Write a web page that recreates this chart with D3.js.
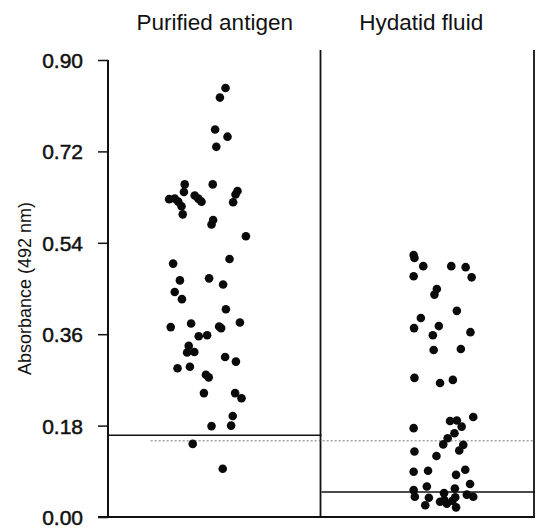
<!DOCTYPE html>
<html>
<head>
<meta charset="utf-8">
<script src="https://cdn.jsdelivr.net/npm/d3@7"></script>
<style>
  body { margin: 0; background: #fff; }
  svg { display: block; }
</style>
</head>
<body>
<div id="chart"></div>
<script>
// ELISA absorbance, two antigen preparations
const groups = ["Purified antigen", "Hydatid fluid"];

const purifiedValues = [0.845, 0.826, 0.763, 0.749, 0.729, 0.655, 0.655, 0.640, 0.626, 0.627,
  0.621, 0.612, 0.633, 0.627, 0.621, 0.642, 0.635, 0.620, 0.596, 0.585,
  0.576, 0.553, 0.499, 0.508, 0.466, 0.470, 0.458, 0.443, 0.429, 0.409,
  0.374, 0.381, 0.375, 0.372, 0.383, 0.356, 0.358, 0.337, 0.324, 0.325,
  0.315, 0.306, 0.293, 0.296, 0.280, 0.275, 0.244, 0.244, 0.234, 0.199,
  0.179, 0.180, 0.144, 0.095];
const purifiedJitter = [0.44, 0.30, 0.18, 0.49, 0.21, -0.58, 0.12, -0.60, -0.97, -0.83,
  -0.74, -0.66, -0.33, -0.24, -0.16, 0.74, 0.69, 0.63, -0.63, 0.13,
  0.09, 0.95, -0.87, 0.54, -0.70, 0.03, 0.38, -0.83, -0.65, 0.45,
  -0.93, -0.42, 0.28, 0.33, 0.80, -0.23, -0.02, -0.48, -0.52, -0.34,
  0.43, 0.70, -0.76, -0.45, -0.05, 0.02, -0.10, 0.68, 0.84, 0.62,
  0.09, 0.58, -0.38, 0.37];

const fluidValues = [0.516, 0.510, 0.494, 0.494, 0.492, 0.474, 0.472, 0.449, 0.438, 0.406,
  0.392, 0.372, 0.376, 0.358, 0.364, 0.329, 0.331, 0.274, 0.264, 0.270,
  0.197, 0.189, 0.190, 0.178, 0.175, 0.165, 0.155, 0.143, 0.142, 0.131,
  0.129, 0.120, 0.089, 0.091, 0.093, 0.083, 0.065, 0.060, 0.053, 0.056,
  0.040, 0.038, 0.023, 0.047, 0.033, 0.026, 0.032, 0.039, 0.019, 0.044,
  0.040, 0.030];
const fluidJitter = [-0.76, -0.74, -0.52, 0.18, 0.54, -0.76, 0.69, -0.18, -0.24, 0.32,
  -0.58, -0.75, -0.13, -0.28, 0.66, -0.26, 0.42, -0.74, -0.10, 0.22,
  0.73, 0.15, 0.32, 0.44, -0.76, 0.26, 0.09, -0.02, 0.48, 0.38,
  -0.74, -0.19, -0.76, -0.40, 0.53, 0.30, 0.65, -0.43, -0.76, 0.27,
  -0.73, -0.38, -0.47, 0.00, 0.01, 0.07, 0.21, 0.28, 0.30, 0.57,
  0.73, -0.10];

// where each cloud of points sits inside its panel (fraction of the panel width)
const groupCentre = [0.468, 0.574];
const cutoffs = [0.161, 0.049];
const dottedCutoff = 0.150;
const yTicks = [0, 0.18, 0.36, 0.54, 0.72, 0.90];

const width = 536, height = 531;
const margin = {top: 60, right: 1, bottom: 14, left: 108};

const svg = d3.select("#chart").append("svg")
  .attr("width", width)
  .attr("height", height)
  .style("font-family", "'Liberation Sans', Arial, sans-serif");

const x = d3.scaleBand()
  .domain(groups)
  .range([margin.left, width - margin.right])
  .paddingInner(0).paddingOuter(0);

const y = d3.scaleLinear()
  .domain([0, 0.9])
  .range([height - margin.bottom, margin.top]);

const jitter = d3.scaleLinear().domain([-1, 1]).range([-40, 40]);

const points = [];
purifiedValues.forEach((v, i) => points.push({g: 0, v, j: purifiedJitter[i]}));
fluidValues.forEach((v, i) => points.push({g: 1, v, j: fluidJitter[i]}));

// y axis
const yAxis = d3.axisLeft(y)
  .tickValues(yTicks)
  .tickFormat(d3.format(".2f"))
  .tickSize(10)
  .tickPadding(15);

const ag = svg.append("g")
  .attr("transform", `translate(${margin.left},0)`)
  .call(yAxis);
ag.select(".domain").attr("stroke", "#111").attr("stroke-width", 2)
  .attr("d", `M0,${y(0.9)}V${y(0)}`);
ag.selectAll(".tick line").attr("stroke", "#111").attr("stroke-width", 1.5);
ag.selectAll(".tick text")
  .attr("fill", "#111")
  .attr("stroke", "#111")
  .attr("stroke-width", 0.5)
  .attr("font-size", 21)
  .attr("dy", "0.36em");

svg.append("text")
  .attr("transform", `translate(31,${(y(0) + y(0.9)) / 2}) rotate(-90)`)
  .attr("text-anchor", "middle")
  .attr("font-size", 18)
  .attr("fill", "#111")
  .text("Absorbance (492 nm)");

// panel frame
const bw = x.bandwidth();
svg.append("line")
  .attr("x1", margin.left - 10).attr("x2", width - margin.right)
  .attr("y1", y(0)).attr("y2", y(0))
  .attr("stroke", "#111").attr("stroke-width", 2);

svg.selectAll(".divider")
  .data(groups)
  .join("line")
  .attr("class", "divider")
  .attr("x1", d => x(d) + bw - 1).attr("x2", d => x(d) + bw - 1)
  .attr("y1", y(0.9) - 10).attr("y2", y(0))
  .attr("stroke", "#111").attr("stroke-width", 1.8);

// titles
svg.selectAll(".title")
  .data(groups)
  .join("text")
  .attr("class", "title")
  .attr("x", (d, i) => x(d) + bw / 2 - i * 7)
  .attr("y", 30)
  .attr("text-anchor", "middle")
  .attr("font-size", 22.5)
  .attr("fill", "#111")
  .text(d => d);

// cut-off lines
svg.append("line")
  .attr("x1", x(groups[0]) + bw * 0.2).attr("x2", width - margin.right)
  .attr("y1", y(dottedCutoff)).attr("y2", y(dottedCutoff))
  .attr("stroke", "#555").attr("stroke-width", 0.8)
  .attr("stroke-dasharray", "2,2");

svg.selectAll(".cutoff")
  .data(cutoffs)
  .join("line")
  .attr("class", "cutoff")
  .attr("x1", (d, i) => x(groups[i]))
  .attr("x2", (d, i) => x(groups[i]) + bw)
  .attr("y1", d => y(d)).attr("y2", d => y(d))
  .attr("stroke", "#111").attr("stroke-width", 1.5);

// dots
svg.append("g")
  .selectAll("circle")
  .data(points)
  .join("circle")
  .attr("cx", d => x(groups[d.g]) + bw * groupCentre[d.g] + jitter(d.j))
  .attr("cy", d => y(d.v))
  .attr("r", 4.3)
  .attr("fill", "#0a0a0a");
</script>
</body>
</html>
